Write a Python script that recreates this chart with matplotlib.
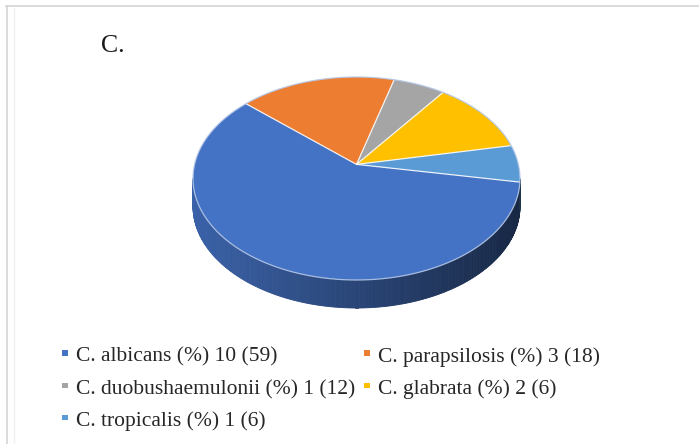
import numpy as np
import matplotlib.pyplot as plt
from matplotlib.patches import Polygon, Rectangle

# isolates per species: count and percent
species = ["C. albicans", "C. parapsilosis", "C. duobushaemulonii", "C. glabrata", "C. tropicalis"]
counts = [10, 3, 1, 2, 1]
percents = [59, 18, 12, 6, 6]
colors = ["#4472C4", "#ED7D31", "#A5A5A5", "#FFC000", "#5B9BD5"]
panel_label = "C."

W, H = 699, 444
fig = plt.figure(figsize=(W / 100, H / 100), dpi=100)
ax = fig.add_axes([0, 0, 1, 1])
ax.set_xlim(0, W)
ax.set_ylim(H, 0)
ax.axis("off")

serif = ["Liberation Serif", "DejaVu Serif"]

# pie geometry in pixels
cx, cy, a, b, depth = 356.5, 178.5, 163.5, 101.5, 28
tilt = 0.139    # perspective: pulls the centre towards the back
start = -10     # first slice starts here, slices run clockwise


def project(theta_deg, r=1.0):
    t = np.radians(theta_deg)
    u, v = r * np.cos(t), r * np.sin(t)
    w = 1 + tilt * v
    x = u * np.sqrt(1 - tilt ** 2) / w
    y = (v + tilt) / w
    return cx + a * x, cy - b * y


def shade(col, x):
    # darker to the right on the pie's side wall
    f = 0.86 - 0.51 * np.clip((x - (cx - a)) / (2 * a), 0, 1)
    rgb = np.array(plt.matplotlib.colors.to_rgb(col))
    return tuple(rgb * f)


sweep = np.array(counts) / sum(counts) * 360
cum = np.concatenate([[0], np.cumsum(sweep)])


def wedge_at(theta):
    d = (start - theta) % 360
    return min(np.searchsorted(cum, d, side="right") - 1, len(counts) - 1)


# side wall: only the front half is visible
lo_vis = 180 + np.degrees(np.arcsin(tilt))
hi_vis = 360 - np.degrees(np.arcsin(tilt))
ts = np.linspace(lo_vis, hi_vis, 240)
for t0, t1 in zip(ts[:-1], ts[1:]):
    x0, y0 = project(t0)
    x1, y1 = project(t1)
    col = shade(colors[wedge_at((t0 + t1) / 2)], (x0 + x1) / 2)
    quad = [(x0, y0), (x1, y1), (x1, y1 + depth), (x0, y0 + depth)]
    ax.add_patch(Polygon(quad, closed=True, facecolor=col, edgecolor=col, lw=0.6))

# top faces
apex = project(0, r=0.0)
for i, col in enumerate(colors):
    hi = start - cum[i]
    lo = start - cum[i + 1]
    arc = np.linspace(lo, hi, max(int(sweep[i] * 2), 4))
    xs, ys = project(arc)
    pts = [apex] + list(zip(xs, ys))
    ax.add_patch(Polygon(pts, closed=True, facecolor=col, edgecolor="none"))

# slice boundaries and rim highlight
for c in cum[:-1]:
    ex, ey = project(start - c)
    ax.plot([apex[0], ex], [apex[1], ey], color="white", lw=0.9, alpha=0.85,
            solid_capstyle="butt")
rx, ry = project(np.linspace(0, 360, 361))
ax.plot(rx, ry, color="#B4C7E7", lw=0.9, alpha=0.9)

# panel label
ax.text(101, 52, panel_label, fontsize=18.5, family=serif, color="#1a1a1a")

# legend, two columns
col_x = [62, 364]
row_base = [361.5, 394, 426]
for i, name in enumerate(species):
    r, c = divmod(i, 2)
    x, yb = col_x[c], row_base[r]
    ax.add_patch(Rectangle((x, yb - 11.5), 5.5, 5.5, facecolor=colors[i], edgecolor="none"))
    ax.text(x + 14, yb, f"{name} (%) {counts[i]} ({percents[i]})",
            fontsize=15.5, family=serif, color="#262626", va="baseline")

# chart area frame (top and left edges)
ax.plot([6, W], [6.5, 6.5], color="#d4d4d4", lw=1.2)
ax.plot([6.5, 6.5], [6, H], color="#d4d4d4", lw=1.2)
ax.plot([13.5, 13.5], [8, H], color="#f0f0f0", lw=1.0)

fig.savefig("out.png", dpi=100)
